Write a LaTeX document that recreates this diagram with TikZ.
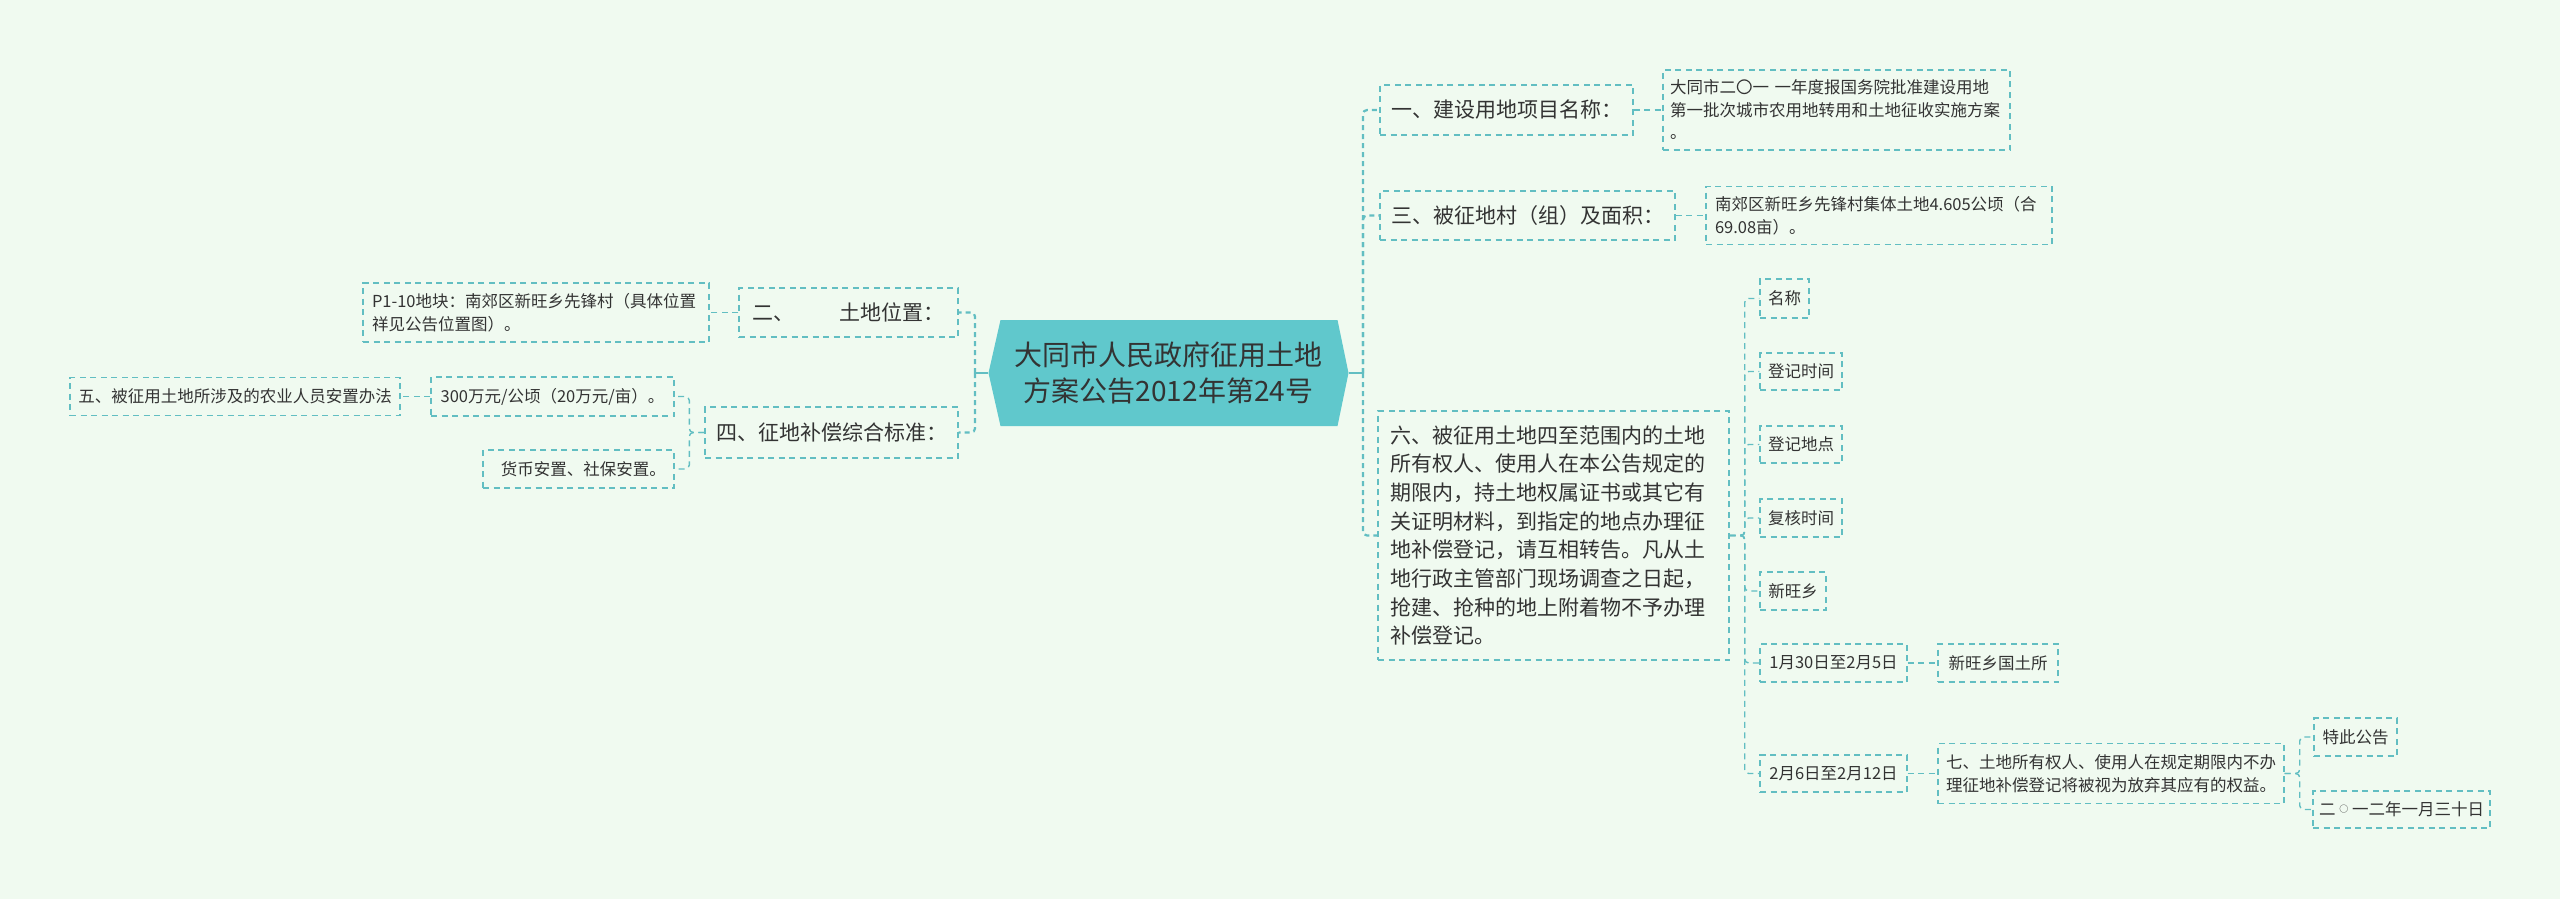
\documentclass[tikz,border=0pt]{standalone}
\usepackage{fontspec}
\setmainfont{Noto Sans CJK SC}
\definecolor{bgc}{HTML}{F0FAF0}
\definecolor{hexc}{HTML}{60C8CC}
\definecolor{lnc}{HTML}{62BEC2}
\definecolor{txt}{HTML}{333333}
\newcommand{\smallcirc}{\makebox[1em][c]{\raisebox{3pt}{\fontsize{9}{9}\selectfont ○}}}
\begin{document}
\begin{tikzpicture}[x=1pt,y=-1pt,
  box/.style={draw=lnc, line width=1.4pt, dash pattern=on 6pt off 4.5pt, text=txt, inner ysep=0pt, inner xsep=6pt, anchor=center},
  med/.style={font=\fontsize{21}{28.7}\selectfont},
  sml/.style={font=\fontsize{16.5}{22.5}\selectfont},
  conn/.style={draw=lnc, line width=1.4pt, dash pattern=on 6pt off 4.5pt, rounded corners=4pt},
  trunk/.style={draw=lnc, line width=2.2pt, dash pattern=on 5pt off 4pt, rounded corners=4pt},
  stub/.style={draw=lnc, line width=2.2pt},
]
\fill[bgc] (0,0) rectangle (2560,899);
\useasboundingbox (0,0) rectangle (2560,899);

% central node
\node[fill=bgc, minimum width=360pt, minimum height=106pt, inner sep=0pt, align=center, text=txt,
  font=\fontsize{28}{36}\selectfont,
  path picture={\fill[hexc] (path picture bounding box.west)
     -- ([xshift=12pt]path picture bounding box.north west)
     -- ([xshift=-11pt]path picture bounding box.north east)
     -- (path picture bounding box.east)
     -- ([xshift=-11pt]path picture bounding box.south east)
     -- ([xshift=12pt]path picture bounding box.south west) -- cycle;}]
  (c) at (1168.5,373) {大同市人民政府征用土地\\方案公告2012年第24号};

% right side
\node[box, med, minimum width=253pt, minimum height=50pt] (n1) at (1506.5,110) {一、建设用地项目名称：};
\node[box, sml, text width=333pt, inner xsep=7pt, align=left, minimum height=80pt] (n1c) at (1836.5,110)
  {大同市二〇一 一年度报国务院批准建设用地\\第一批次城市农用地转用和土地征收实施方案\\。};
\node[box, med, minimum width=295pt, minimum height=49pt] (n3) at (1527.5,215.5) {三、被征地村（组）及面积：};
\node[box, sml, text width=328pt, inner xsep=9pt, align=left, minimum height=58pt] (n3c) at (1879,215.5)
  {南郊区新旺乡先锋村集体土地4.605公顷（合\\69.08亩）。};
\node[box, med, text width=327pt, inner xsep=12pt, align=left, minimum height=249pt] (n6) at (1553.5,535.5)
  {六、被征用土地四至范围内的土地\\所有权人、使用人在本公告规定的\\期限内，持土地权属证书或其它有\\关证明材料，到指定的地点办理征\\地补偿登记，请互相转告。凡从土\\地行政主管部门现场调查之日起，\\抢建、抢种的地上附着物不予办理\\补偿登记。};

\node[box, sml, minimum width=49pt, minimum height=39pt] (k1) at (1784.5,298.5) {名称};
\node[box, sml, minimum width=82pt, minimum height=37pt] (k2) at (1801,371.5) {登记时间};
\node[box, sml, minimum width=82pt, minimum height=37pt] (k3) at (1801,444.5) {登记地点};
\node[box, sml, minimum width=82pt, minimum height=38pt] (k4) at (1801,518) {复核时间};
\node[box, sml, minimum width=66pt, minimum height=38pt] (k5) at (1793,591) {新旺乡};
\node[box, sml, minimum width=147pt, minimum height=38pt] (k6) at (1833.5,663) {1月30日至2月5日};
\node[box, sml, minimum width=147pt, minimum height=37pt] (k7) at (1833.5,773.5) {2月6日至2月12日};
\node[box, sml, minimum width=120pt, minimum height=38pt] (k6c) at (1998,663) {新旺乡国土所};
\node[box, sml, text width=330pt, inner xsep=8pt, align=left, minimum height=60pt] (n7) at (2111,773.5)
  {七、土地所有权人、使用人在规定期限内不办\\理征地补偿登记将被视为放弃其应有的权益。};
\node[box, sml, minimum width=83pt, minimum height=38pt] (t1) at (2355.5,737) {特此公告};
\node[box, sml, minimum width=175pt, minimum height=37pt] (t2) at (2401.5,809.5) {二\smallcirc 一二年一月三十日};

% left side
\node[box, med, minimum width=219pt, minimum height=49pt] (n2) at (848.5,312.5) {二、\hspace{2.1em}土地位置：};
\node[box, sml, text width=328pt, inner xsep=9pt, align=left, minimum height=59pt] (n2c) at (536,312.5)
  {P1-10地块：南郊区新旺乡先锋村（具体位置\\祥见公告位置图）。};
\node[box, med, minimum width=253pt, minimum height=51pt] (n4) at (831.5,432.5) {四、征地补偿综合标准：};
\node[box, sml, minimum width=243pt, minimum height=39pt] (p1) at (552.5,396.5) {300万元/公顷（20万元/亩）。};
\node[box, sml, minimum width=191pt, minimum height=38pt] (p2) at (578.5,469) {\hspace{0.6em}货币安置、社保安置。};
\node[box, sml, minimum width=330pt, minimum height=38pt] (p1c) at (235,396.5) {五、被征用土地所涉及的农业人员安置办法};

% connectors right
\coordinate (rt) at (1363,373);
\draw[stub] (c.east) -- (rt);
\draw[trunk] (rt) |- (n1.west);
\draw[trunk] (rt) |- (n3.west);
\draw[trunk] (rt) |- (n6.west);
\draw[conn] (n1.east) -- (n1c.west);
\draw[conn] (n3.east) -- (n3c.west);
\foreach \k in {k1,k2,k3,k4,k5,k6,k7}{
  \draw[conn] (n6.east) -- ++(15,0) |- (\k.west);
}
\draw[conn] (k6.east) -- (k6c.west);
\draw[conn] (k7.east) -- (n7.west);
\draw[conn] (n7.east) -- ++(15,0) |- (t1.west);
\draw[conn] (n7.east) -- ++(15,0) |- (t2.west);

% connectors left
\coordinate (lt) at (975,373);
\draw[stub] (c.west) -- (lt);
\draw[trunk] (lt) |- (n2.east);
\draw[trunk] (lt) |- (n4.east);
\draw[conn] (n2.west) -- (n2c.east);
\draw[conn] (n4.west) -- ++(-15,0) |- (p1.east);
\draw[conn] (n4.west) -- ++(-15,0) |- (p2.east);
\draw[conn] (p1.west) -- (p1c.east);
\end{tikzpicture}
\end{document}
